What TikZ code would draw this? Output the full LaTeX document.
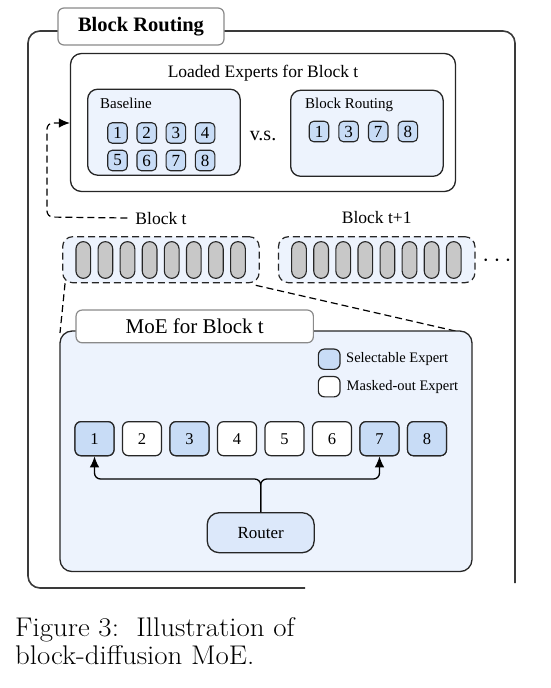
\documentclass[tikz,border=0pt]{standalone}
\usepackage{fontspec}
\setmainfont{Liberation Serif}
\newfontfamily\capfont[FakeStretch=1.07]{Latin Modern Roman}
\usetikzlibrary{arrows.meta}
\definecolor{bglight}{HTML}{EDF3FD}
\definecolor{selblue}{HTML}{C8DCF6}
\definecolor{routerblue}{HTML}{DCE8FA}
\definecolor{tokgray}{HTML}{C8C8C8}
\definecolor{tabgray}{HTML}{8A8A8A}
\definecolor{framegray}{HTML}{3A3A3A}
\begin{document}
\begin{tikzpicture}[x=1pt,y=-1pt,line join=round]
\tikzset{
 tabbox/.style={draw=tabgray, line width=1.2pt, fill=white, rounded corners=6pt, inner sep=0pt},
 panel/.style={draw=black!85, line width=1.3pt, rounded corners=11pt, inner sep=0pt},
 smallexp/.style={draw=black!85, line width=1.1pt, fill=selblue, rounded corners=4.5pt, minimum width=19.5pt, minimum height=20.5pt, inner sep=0pt, font=\fontsize{17}{17}\selectfont},
 bigexp/.style={draw=black!85, line width=1.2pt, rounded corners=6pt, minimum width=39pt, minimum height=34pt, inner sep=0pt, font=\fontsize{16.5}{17}\selectfont},
 token/.style={draw=black!85, line width=1.1pt, fill=tokgray, rounded corners=7.3pt, minimum width=14.7pt, minimum height=36.7pt, inner sep=0pt},
 tokbox/.style={draw=black!85, line width=1.2pt, dash pattern=on 7pt off 4pt, fill=bglight, rounded corners=10pt, minimum width=196.5pt, minimum height=46pt, inner sep=0pt},
 dashline/.style={line width=1.2pt, dash pattern=on 7pt off 4pt},
 arr/.style={-{Latex[length=11pt,width=9.5pt]}},
 lbl/.style={inner sep=0pt},
}
\useasboundingbox (0,0) rectangle (551,688);
% outer frame (partly faded in the reference)
\draw[framegray, line width=1.6pt, rounded corners=12pt] (305,588) -- (28,588) -- (28,31) -- (515,31) -- (515,583);
\node[tabbox, minimum width=166pt, minimum height=37pt, font=\fontsize{20.5}{21}\selectfont\bfseries] (title) at (141,26.5) {Block Routing};

% loaded experts
\node[panel, fill=white, minimum width=385pt, minimum height=138pt] (loaded) at (263,122.5) {};
\node[lbl, anchor=base, font=\fontsize{17.5}{18}\selectfont] (loadedlbl) at (263,77.3) {Loaded Experts for Block t};

\node[panel, fill=bglight, rounded corners=10pt, minimum width=152.5pt, minimum height=86pt] (basebox) at (163.9,132.2) {};
\node[lbl, anchor=base west, font=\fontsize{15}{15}\selectfont] (baselbl) at (100,108) {Baseline};
\foreach \n [count=\i from 0] in {1,2,3,4} {
  \node[smallexp] (b\n) at ({117.5+29.2*\i},133) {\n};
}
\foreach \n [count=\i from 0] in {5,6,7,8} {
  \node[smallexp] (b\n) at ({117.5+29.2*\i},160.5) {\n};
}
\node[lbl, anchor=base, font=\fontsize{20}{20}\selectfont] (vs) at (263,140) {v.s.};

\node[panel, fill=bglight, rounded corners=10pt, minimum width=152.5pt, minimum height=86pt] (brbox) at (366.9,133.3) {};
\node[lbl, anchor=base west, font=\fontsize{15}{15}\selectfont] (brlbl) at (305,108) {Block Routing};
\foreach \n [count=\i from 0] in {1,3,7,8} {
  \node[smallexp] (r\n) at ({319+29.6*\i},131.5) {\n};
}

% blocks of tokens
\node[lbl, anchor=base, font=\fontsize{17.5}{18}\selectfont] (blabel) at (161,224) {Block t};
\node[lbl, anchor=base, font=\fontsize{17.5}{18}\selectfont] (blabelb) at (376.7,223.5) {Block t+1};
\node[tokbox] (blockt) at (160.9,259.7) {};
\node[tokbox] (blocktt) at (376.7,259.7) {};
\foreach \i in {0,...,7} {
  \node[token] (t\i) at ({83.3+22.1*\i},260) {};
  \node[token] (u\i) at ({299+22.1*\i},260) {};
}
\node[lbl, font=\fontsize{23}{23}\selectfont] (dots) at (497,261) {$\cdots$};

\coordinate (c1) at (47,217);
\coordinate (c2) at (47,123);
\draw[dashline, arr, rounded corners=6pt] ([xshift=-8pt]blabel.west) -- (c1) -- (c2) -- (loaded.west |- c2);

% zoom lines
\draw[dashline] ([xshift=3pt]blockt.south west) -- (60,333) coordinate (zl);
\draw[dashline] ([xshift=-4pt,yshift=-2pt]blockt.south east) -- (464,333) coordinate (zr);

% MoE box
\node[panel, fill=bglight, rounded corners=12pt, minimum width=412pt, minimum height=240.5pt] (moe) at (266,451.3) {};
\node[tabbox, minimum width=237.3pt, minimum height=32.7pt, font=\fontsize{21}{21}\selectfont] (moetab) at (194.7,326.4) {MoE for Block t};

% legend
\node[draw=black!85, line width=1.2pt, fill=selblue, rounded corners=6pt, minimum width=21.7pt, minimum height=20.3pt, inner sep=0pt] (legsel) at (329.2,359.2) {};
\node[draw=black!85, line width=1.2pt, fill=white, rounded corners=6pt, minimum width=21.7pt, minimum height=20.3pt, inner sep=0pt] (legmask) at (329.2,386.7) {};
\node[lbl, anchor=west, font=\fontsize{14.5}{15}\selectfont] (legseltxt) at (346,359.5) {Selectable Expert};
\node[lbl, anchor=west, font=\fontsize{14.5}{15}\selectfont] (legmasktxt) at (346.5,387) {Masked-out Expert};

% experts
\foreach \n [count=\i from 0] in {1,2,3,4,5,6,7,8} {
  \node[bigexp, fill=white] (e\n) at ({94.5+47.5*\i},438.7) {\n};
}
\foreach \n in {1,3,7,8} {
  \node[bigexp, fill=selblue] at (e\n) {\n};
}

% router
\node[draw=black!85, line width=1.3pt, fill=routerblue, rounded corners=12pt, minimum width=107pt, minimum height=40pt, inner sep=0pt, font=\fontsize{17}{17}\selectfont] (router) at (260.7,532.7) {Router};
\coordinate (rj) at (260.7,479);
\draw[line width=1.3pt, arr, rounded corners=6pt] (router.north) -- (rj) -| (e1.south);
\draw[line width=1.3pt, arr, rounded corners=6pt] (router.north) -- (rj) -| (e7.south);

% caption
\node[lbl, anchor=base west, font=\capfont\fontsize{27}{27}\selectfont] (cap1) at (15,636) {Figure 3:\ \ Illustration of};
\node[lbl, anchor=base west, font=\capfont\fontsize{27}{27}\selectfont] (cap2) at (15,664) {block-diffusion MoE.};
\end{tikzpicture}
\end{document}
